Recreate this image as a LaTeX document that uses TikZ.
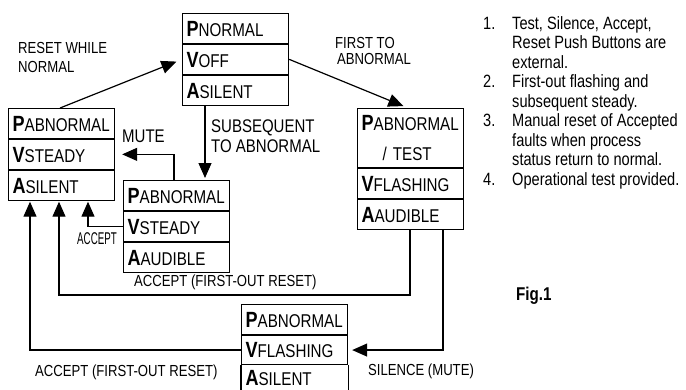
\documentclass[tikz,border=0pt]{standalone}
\usepackage{fontspec}
\usepackage{graphicx}
\setmainfont{Liberation Sans}[FakeStretch=0.82]
\usetikzlibrary{arrows.meta}
\newcommand{\setfs}[1]{\fontsize{#1}{#1}\selectfont}
\newcommand{\bigL}[1]{{\fontsize{22}{22}\selectfont\bfseries #1}}
\begin{document}
\begin{tikzpicture}[x=1pt,y=-1pt,
  row/.style={draw, line width=1.2pt, anchor=north west, minimum height=29.7pt,
    text width=98pt, inner xsep=4pt, inner ysep=0pt, align=left,
    font=\fontsize{18.5}{30}\selectfont},
  one/.style={text height=15.5pt, text depth=0pt},
  arr/.style={line width=1.2pt, -{Triangle[length=15pt,width=13pt]}},
  lbl/.style={anchor=base west, inner sep=0pt, font=\setfs{16}},
  big/.style={anchor=base west, inner sep=0pt, font=\setfs{18.3}},
  note/.style={anchor=base west, inner sep=0pt, font=\setfs{17.8}},
]
\useasboundingbox (0,0) rectangle (686,389);

% Box 1: normal
\node[row,one] (b1p) at (182,13) {\bigL{P}NORMAL};
\node[row,one] (b1v) at (b1p.south west) {\bigL{V}OFF};
\node[row,one] (b1a) at (b1v.south west) {\bigL{A}SILENT};

% Box 2: abnormal steady silent
\node[row,one] (b2p) at (8,108) {\bigL{P}ABNORMAL};
\node[row,one] (b2v) at (b2p.south west) {\bigL{V}STEADY};
\node[row,one] (b2a) at (b2v.south west) {\bigL{A}SILENT};

% Box 3: abnormal steady audible
\node[row,one] (b3p) at (123,180) {\bigL{P}ABNORMAL};
\node[row,one] (b3v) at (b3p.south west) {\bigL{V}STEADY};
\node[row,one] (b3a) at (b3v.south west) {\bigL{A}AUDIBLE};

% Box 4: abnormal / test flashing audible
\node[row,minimum height=59pt] (b4p) at (357,108) {\bigL{P}ABNORMAL\\\hspace*{21pt}/ TEST};
\node[row,one] (b4v) at (b4p.south west) {\bigL{V}FLASHING};
\node[row,one] (b4a) at (b4v.south west) {\bigL{A}AUDIBLE};

% Box 5: abnormal flashing silent (cut by the lower edge)
\node[row,one,minimum height=29.5pt] (b5p) at (241,304) {\bigL{P}ABNORMAL};
\node[row,one,minimum height=29.5pt] (b5v) at (b5p.south west) {\bigL{V}FLASHING};
\node[row,one,draw=none,minimum height=23pt] (b5a) at (b5v.south west) {\bigL{A}SILENT};
\draw[line width=1.2pt] (b5a.north west) -- ([yshift=-8pt]b5a.south west);
\draw[line width=1.2pt] (b5a.north east) -- ([yshift=-8pt]b5a.south east);

% Connectors
\draw[arr, shorten >=6pt] ([xshift=52pt]b2p.north west) -- (b1v.west);
\draw[arr, shorten >=5pt] (b1v.east) -- ([xshift=51pt]b4p.north west);
\draw[arr, shorten >=2pt] ([xshift=23pt]b1a.south west) -- ([xshift=23pt]b1a.south west |- b3p.north);
\draw[arr, shorten >=7pt] ([xshift=51pt]b3p.north west) |- (b2v.east);
\draw[arr, shorten >=1pt] (b3v.west) -| ([xshift=80pt]b2a.south west);
\draw[arr, shorten >=1pt] ([xshift=53pt]b4a.south west) -- ([xshift=53pt,yshift=-65pt]b4a.south west) -| ([xshift=51pt]b2a.south west);
\draw[arr, shorten >=4pt] ([xshift=86pt]b4a.south west) |- (b5v.east);
\draw[arr, shorten >=1pt] (b5v.west) -| ([xshift=22pt]b2a.south west);

% Labels
\node[lbl] (l1a) at (18,53) {RESET WHILE};
\node[lbl] (l1b) at (18,72) {NORMAL};
\node[lbl] (l2a) at (335,48) {FIRST TO};
\node[lbl] (l2b) at (337,64) {ABNORMAL};
\node[big] (l3a) at (211,132) {SUBSEQUENT};
\node[big] (l3b) at (211,152) {TO ABNORMAL};
\node[big] (l4) at (122,142) {MUTE};
\node[anchor=base west, inner sep=0pt, font=\setfs{17}] (l5) at (77,244) {\scalebox{0.7}[1]{ACCEPT}};
\node[lbl] (l6) at (134,286) {ACCEPT (FIRST-OUT RESET)};
\node[lbl] (l7) at (35,376) {ACCEPT (FIRST-OUT RESET)};
\node[lbl] (l8) at (368,375) {SILENCE (MUTE)};
\node[anchor=base west, inner sep=0pt, font=\setfs{18.5}\bfseries] (fig) at (516,300) {Fig.1};

% Notes
\node[note] (n1) at (483,29) {1.};
\node[note] (t1) at (512,29) {Test, Silence, Accept,};
\node[note] (t2) at (512,48.5) {Reset Push Buttons are};
\node[note] (t3) at (512,68) {external.};
\node[note] (n2) at (483,87.5) {2.};
\node[note] (t4) at (512,87.5) {First-out flashing and};
\node[note] (t5) at (512,107) {subsequent steady.};
\node[note] (n3) at (483,126.5) {3.};
\node[note] (t6) at (512,126.5) {Manual reset of Accepted};
\node[note] (t7) at (512,146) {faults when process};
\node[note] (t8) at (512,165.5) {status return to normal.};
\node[note] (n4) at (483,185) {4.};
\node[note] (t9) at (512,185) {Operational test provided.};
\end{tikzpicture}
\end{document}
